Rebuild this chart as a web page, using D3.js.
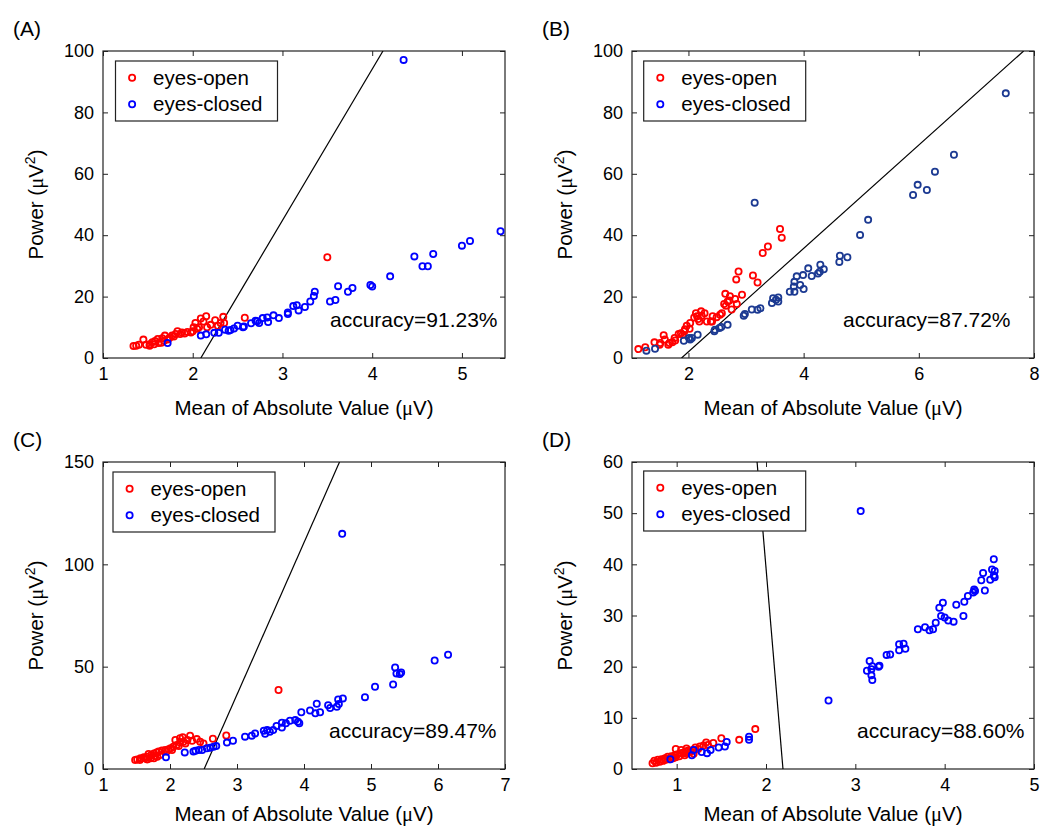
<!DOCTYPE html>
<html>
<head>
<meta charset="utf-8">
<script src="https://cdn.jsdelivr.net/npm/d3@7"></script>
<style>
  body { margin: 0; background: #fff; }
  svg { font-family: "Liberation Sans", Arial, sans-serif; }
  .tick text { font-size: 18px; fill: #000; }
</style>
</head>
<body>
<div id="fig"></div>
<script>
// ---- data: [mean abs value, power] ----
var openA = [[3.50,32.8],[2.58,13.1],[2.34,13.4],[2.15,13.6],[2.09,12.9],[2.03,11.4],[2.01,10.0],
  [2.25,12.3],[2.35,11.4],[2.20,10.8],[2.12,11.9],[2.07,10.0],[1.98,8.3],[2.00,8.7],
  [1.88,8.3],[1.83,8.7],[1.81,7.8],[1.77,7.3],[1.74,6.5],[1.69,7.3],[1.66,6.4],[1.61,6.2],
  [1.58,5.5],[1.55,5.1],[1.52,4.5],[1.48,4.3],[1.45,6.0],[1.40,4.3],[1.37,4.0],[1.34,3.9],
  [1.62,4.9],[1.57,4.5],[1.68,5.6],[1.72,6.0],[1.52,4.0],[1.86,7.8],[1.94,8.5],[2.16,10.0],
  [2.28,10.5],[2.31,11.4],[1.65,5.0],[1.79,7.0],[1.91,8.0],[2.05,9.5]];
var closedA = [[4.35,97.1],[5.43,41.3],[5.09,38.1],[5.00,36.6],[4.68,33.9],[4.47,33.1],[4.56,29.9],
  [4.62,29.9],[4.20,26.6],[3.98,23.8],[4.00,23.3],[3.62,23.4],[3.78,22.8],[3.73,21.6],
  [3.36,21.6],[3.35,20.2],[3.31,18.4],[3.59,18.9],[3.53,18.4],[3.16,17.2],[3.12,16.9],
  [3.25,16.6],[3.18,15.5],[3.06,14.8],[3.06,14.3],[2.96,13.0],[2.90,13.9],[2.83,13.2],
  [2.78,13.0],[2.72,12.0],[2.70,12.1],[2.84,11.7],[2.74,11.4],[2.65,11.3],[2.57,10.3],
  [2.56,10.0],[2.50,10.5],[2.46,9.6],[2.42,9.1],[2.40,8.9],[2.36,9.2],[2.29,8.2],[2.24,8.2],
  [2.15,7.7],[2.09,7.3],[1.72,4.9]];

var openB = [[3.59,42.0],[3.62,39.2],[3.38,36.3],[3.29,34.2],[3.12,26.9],[3.20,24.6],[2.87,28.2],
  [2.83,25.6],[2.93,20.6],[2.72,20.1],[2.64,20.9],[2.71,18.7],[2.81,19.2],[2.84,17.6],[2.75,15.8],
  [2.62,17.6],[2.68,18.4],[2.58,14.6],[2.42,13.6],[2.32,11.9],[2.39,11.9],[2.28,14.6],[2.22,15.2],
  [2.23,13.8],[2.15,13.6],[2.13,14.6],[2.19,11.9],[2.17,12.7],[2.10,13.2],[2.03,11.4],[2.02,9.5],
  [1.93,8.7],[1.87,8.1],[1.83,7.8],[1.76,6.5],[1.72,5.1],[1.67,4.9],[1.57,7.4],[1.59,6.0],
  [1.51,4.9],[1.41,5.1],[1.25,3.5],[1.13,2.9],[1.77,5.7],[1.65,4.3],[1.50,4.3],[1.97,10.5],
  [1.94,9.4],[1.90,7.6],[2.65,17.0],[2.55,14.1],[2.49,13.3],[2.41,11.9]];
var closedB = [[7.51,86.2],[6.61,66.2],[6.28,60.7],[5.98,56.4],[5.90,53.1],[6.14,54.7],[5.12,45.0],
  [4.98,40.1],[4.76,32.8],[4.63,33.3],[4.62,31.3],[4.29,30.4],[4.28,28.1],[4.35,28.9],[4.25,27.5],
  [4.08,29.2],[4.14,26.7],[3.99,27.0],[3.88,26.6],[3.94,23.8],[4.00,22.5],[3.84,24.8],[3.83,23.3],
  [3.76,21.6],[3.84,21.6],[3.56,19.7],[3.47,19.5],[3.45,17.9],[3.56,18.4],[3.52,19.0],[3.25,16.2],
  [3.20,15.7],[3.10,15.8],[2.96,13.8],[2.98,14.3],[3.15,50.6],[2.68,10.8],[2.57,10.1],[2.54,9.8],
  [2.46,9.2],[2.45,8.7],[2.16,7.6],[2.06,6.5],[2.03,6.0],[2.01,6.5],[1.92,5.6],[1.42,3.0],[1.27,2.4]];

var openC = [[3.62,38.6],[2.84,16.4],[2.64,14.8],[2.30,16.3],[2.19,15.5],[2.40,14.6],[2.45,13.3],
  [2.50,12.5],[2.26,14.2],[2.20,13.3],[2.15,12.9],[2.10,11.7],[2.05,10.9],[2.01,10.1],[1.98,9.6],
  [1.93,9.3],[1.88,9.0],[1.83,8.5],[1.80,8.1],[1.76,7.6],[1.72,6.8],[1.68,7.3],[1.66,6.0],
  [1.61,5.7],[1.56,5.2],[1.51,4.7],[1.48,4.4],[1.55,4.4],[1.66,4.7],[1.76,5.2],[1.81,6.0],
  [1.85,6.8],[1.95,8.5],[2.03,9.3],[2.13,11.2],[2.23,12.5],[2.33,13.8],[2.08,14.2],[2.15,15.0],
  [1.71,5.2],[1.63,5.2],[1.78,6.3]];
var closedC = [[4.57,114.9],[6.15,55.8],[5.95,53.0],[5.36,49.6],[5.38,46.7],[5.43,46.4],[5.45,47.2],
  [5.33,41.3],[5.06,40.2],[4.91,35.1],[4.58,34.5],[4.51,34.0],[4.52,31.7],[4.49,30.4],[4.19,31.9],
  [4.36,31.2],[4.39,29.8],[4.09,28.6],[4.17,27.2],[4.24,27.7],[3.96,27.7],[3.91,23.1],[3.93,22.3],
  [3.87,23.9],[3.79,23.6],[3.73,22.3],[3.67,22.6],[3.67,20.3],[3.59,21.0],[3.54,19.0],[3.49,18.2],
  [3.45,19.0],[3.40,18.7],[3.42,17.2],[3.27,17.4],[3.22,16.3],[3.12,15.8],[2.94,13.8],[2.85,12.9],
  [2.69,11.2],[2.65,10.9],[2.60,10.4],[2.55,10.1],[2.48,9.3],[2.43,9.3],[2.38,8.9],[2.35,8.5],
  [2.22,8.1],[1.94,5.7]];

var openD = [[1.88,7.8],[1.70,5.7],[1.50,6.0],[1.41,5.1],[1.33,5.2],[1.35,4.7],[1.26,4.4],[1.21,4.2],
  [1.18,3.7],[1.13,3.6],[1.10,3.4],[1.07,3.2],[1.05,3.1],[0.99,3.9],[1.01,2.9],[0.98,2.7],
  [0.94,2.5],[0.90,2.4],[0.87,2.1],[0.83,1.9],[0.79,1.8],[0.75,1.6],[0.73,1.1],[1.15,3.3],
  [1.09,2.7],[1.03,2.5],[0.99,2.3],[0.96,2.1],[0.92,1.9],[0.88,1.8],[0.85,1.6],[0.81,1.4],
  [0.77,1.2],[1.11,4.0],[1.16,3.4],[1.05,3.7],[1.09,3.1],[1.24,3.9],[1.30,4.6],[1.19,3.0]];
var closedD = [[3.06,50.4],[2.70,13.4],[4.55,41.0],[4.53,39.0],[4.56,38.7],[4.56,37.5],[4.51,37.0],
  [4.55,37.8],[4.43,38.3],[4.41,36.9],[4.45,34.9],[4.33,35.1],[4.32,34.5],[4.34,34.8],[4.26,33.8],
  [4.22,32.7],[4.13,32.1],[4.21,29.9],[3.98,32.5],[3.94,31.5],[3.96,29.9],[4.00,29.6],[4.04,29.0],
  [4.10,28.8],[3.90,28.6],[3.87,27.3],[3.83,27.1],[3.78,27.7],[3.70,27.3],[3.54,24.5],[3.49,24.4],
  [3.49,23.2],[3.56,23.5],[3.39,22.4],[3.35,22.3],[3.27,20.2],[3.26,20.0],[3.16,21.1],[3.18,19.5],
  [3.13,19.2],[3.18,18.3],[3.19,17.4],[3.19,20.1],[1.81,6.3],[1.81,5.7],[1.56,5.3],[1.54,4.4],
  [1.47,4.2],[1.38,3.7],[1.34,3.1],[1.28,3.3],[1.19,3.7],[1.17,2.7],[0.93,1.9]];

// decision lines (two end points each) and accuracies
var lineA = [[2.09,0],[4.12,100]];
var lineB = [[1.88,0],[7.82,100]];
var lineC = [[2.51,0],[4.53,150]];
var lineD = [[2.19,0],[1.90,60]];
var accuracies = ["91.23%", "87.72%", "89.47%", "88.60%"];

// tick values
var xTicksA = [1,2,3,4,5], yTicksA = [0,20,40,60,80,100];
var xTicksB = [2,4,6,8],   yTicksB = [0,20,40,60,80,100];
var xTicksC = [1,2,3,4,5,6,7], yTicksC = [0,50,100,150];
var xTicksD = [1,2,3,4,5], yTicksD = [0,10,20,30,40,50,60];

var panels = [
  {tag:"(A)", left:103, top:51,  xDom:[1,5.48], yDom:[0,100], xt:xTicksA, yt:yTicksA,
   open:openA, closed:closedA, line:lineA, acc:accuracies[0], accX:227, closedCol:"#0000ff", legX:12.5, legY:10, xlab:57},
  {tag:"(B)", left:632, top:51,  xDom:[1.02,8], yDom:[0,100], xt:xTicksB, yt:yTicksB,
   open:openB, closed:closedB, line:lineB, acc:accuracies[1], accX:211, closedCol:"#1c3a92", legX:11.7, legY:10, xlab:57},
  {tag:"(C)", left:103, top:462, xDom:[1,7], yDom:[0,150], xt:xTicksC, yt:yTicksC,
   open:openC, closed:closedC, line:lineC, acc:accuracies[2], accX:226, closedCol:"#0000ff", legX:10, legY:10, xlab:52},
  {tag:"(D)", left:632, top:462, xDom:[0.5,5], yDom:[0,60], xt:xTicksD, yt:yTicksD,
   open:openD, closed:closedD, line:lineD, acc:accuracies[3], accX:225, closedCol:"#0000ff", legX:11.7, legY:9, xlab:52}
];

var W = 402, H = 307;

var svg = d3.select("#fig").append("svg")
    .attr("width", 1043)
    .attr("height", 828);

panels.forEach(function(p, i) {
  var g = svg.append("g").attr("transform", "translate(" + p.left + "," + p.top + ")");

  var x = d3.scaleLinear().domain(p.xDom).range([0, W]);
  var y = d3.scaleLinear().domain(p.yDom).range([H, 0]);

  // clip for the decision line
  svg.append("clipPath").attr("id", "clip" + i)
    .append("rect").attr("width", W).attr("height", H);

  // axes: ticks inward, mirrored on top / right
  g.append("g").attr("transform", "translate(0," + H + ")")
    .call(d3.axisBottom(x).tickValues(p.xt).tickFormat(d3.format("d")).tickSizeInner(-5).tickSizeOuter(0).tickPadding(9));
  g.append("g")
    .call(d3.axisLeft(y).tickValues(p.yt).tickFormat(d3.format("d")).tickSizeInner(-5).tickSizeOuter(0).tickPadding(9));
  g.append("g")
    .call(d3.axisTop(x).tickValues(p.xt).tickFormat("").tickSizeInner(-5).tickSizeOuter(0));
  g.append("g").attr("transform", "translate(" + W + ",0)")
    .call(d3.axisRight(y).tickValues(p.yt).tickFormat("").tickSizeInner(-5).tickSizeOuter(0));
  g.selectAll(".domain").remove();
  g.selectAll(".tick line").attr("stroke", "#222");

  g.append("rect")
    .attr("width", W).attr("height", H)
    .attr("fill", "none").attr("stroke", "#222").attr("stroke-width", 1.2);

  // decision line
  g.append("line")
    .attr("clip-path", "url(#clip" + i + ")")
    .attr("x1", x(p.line[0][0])).attr("y1", y(p.line[0][1]))
    .attr("x2", x(p.line[1][0])).attr("y2", y(p.line[1][1]))
    .attr("stroke", "#000").attr("stroke-width", 1.2);

  // points
  g.append("g").selectAll("circle").data(p.open).enter().append("circle")
    .attr("cx", function(d) { return x(d[0]); })
    .attr("cy", function(d) { return y(d[1]); })
    .attr("r", 3.1).attr("fill", "none").attr("stroke", "#ff0000").attr("stroke-width", 1.8);
  g.append("g").selectAll("circle").data(p.closed).enter().append("circle")
    .attr("cx", function(d) { return x(d[0]); })
    .attr("cy", function(d) { return y(d[1]); })
    .attr("r", 3.1).attr("fill", "none").attr("stroke", p.closedCol).attr("stroke-width", 1.8);

  // legend
  var leg = g.append("g").attr("transform", "translate(" + p.legX + "," + p.legY + ")");
  leg.append("rect").attr("width", 162).attr("height", 60)
    .attr("fill", "#fff").attr("stroke", "#222").attr("stroke-width", 1.2);
  [["eyes-open", "#ff0000"], ["eyes-closed", "#0000ff"]].forEach(function(e, k) {
    var cy = 16.7 + k * 26.6;
    leg.append("circle").attr("cx", 16.6).attr("cy", cy).attr("r", 3.1)
      .attr("fill", "none").attr("stroke", e[1]).attr("stroke-width", 1.8);
    leg.append("text").attr("x", 37.6).attr("y", cy + 7)
      .style("font-size", "20.5px").text(e[0]);
  });

  // accuracy
  g.append("text").attr("x", p.accX).attr("y", H - 31)
    .style("font-size", "21px").text("accuracy=" + p.acc);

  // x label
  var xl = g.append("text").attr("x", W / 2).attr("y", H + p.xlab)
    .style("font-size", "20.5px").style("text-anchor", "middle");
  xl.append("tspan").text("Mean of Absolute Value (");
  xl.append("tspan").style("font-family", "'Liberation Serif', serif").text("\u03bc");
  xl.append("tspan").text("V)");

  // y label
  var yl = g.append("text").attr("transform", "translate(-60," + (H / 2) + ") rotate(-90)")
    .style("font-size", "20.5px").style("text-anchor", "middle");
  yl.append("tspan").text("Power (");
  yl.append("tspan").style("font-family", "'Liberation Serif', serif").text("\u03bc");
  yl.append("tspan").text("V");
  yl.append("tspan").attr("dy", -8).style("font-size", "14px").text("2");
  yl.append("tspan").attr("dy", 8).text(")");

  // panel tag
  svg.append("text").attr("x", p.left - 90).attr("y", p.top - 15)
    .style("font-size", "21px").text(p.tag);
});
</script>
</body>
</html>
